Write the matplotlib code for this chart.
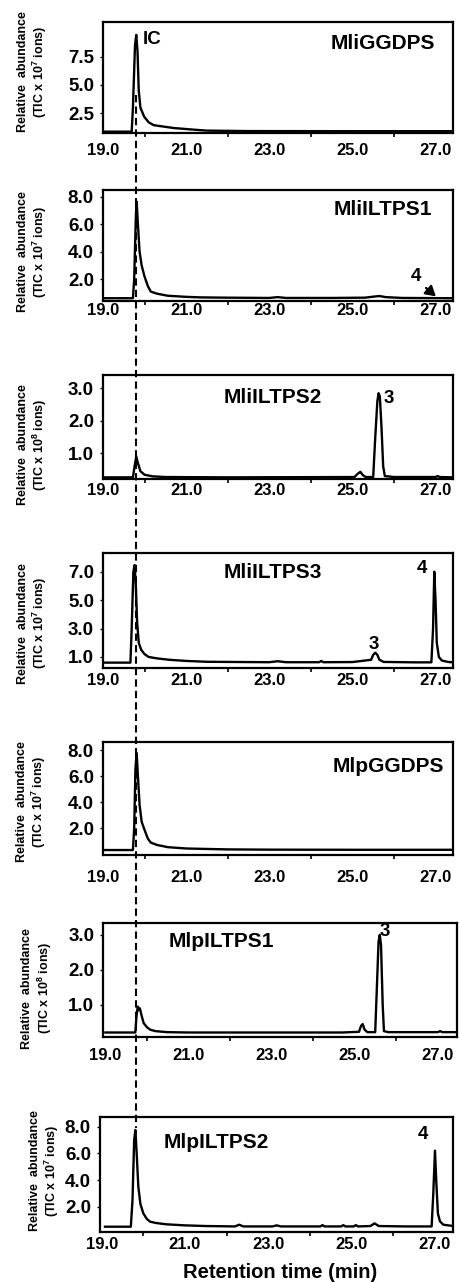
import matplotlib
matplotlib.use("Agg")
import matplotlib.pyplot as plt
from matplotlib.lines import Line2D
from matplotlib.ticker import FixedLocator

plt.rcParams["font.family"] = ["Liberation Sans", "DejaVu Sans"]
plt.rcParams["font.weight"] = "bold"
plt.rcParams["mathtext.default"] = "regular"

W, H = 459, 1282

# GC-MS traces (time in min, intensity in axis units)
t_mligg = [19.0, 19.69, 19.72, 19.77, 19.8, 19.83, 19.86, 19.9, 19.99, 20.1, 20.22, 20.7, 21.2, 21.5, 22.5, 25.0, 27.42]
y_mligg = [0.88, 0.88, 3.0, 8.5, 9.42, 8.0, 4.5, 3.0, 2.2, 1.7, 1.45, 1.2, 1.05, 0.97, 0.93, 0.92, 0.92]

t_mli1 = [19.0, 19.72, 19.75, 19.79, 19.81, 19.84, 19.88, 19.93, 20.0, 20.08, 20.15, 20.3, 20.56, 21.0, 21.36,
          22.0, 23.0, 23.2, 23.4, 24.5, 25.3, 25.55, 25.65, 25.8, 26.2, 27.42]
y_mli1 = [0.62, 0.62, 2.0, 6.5, 7.64, 6.0, 4.0, 3.0, 2.19, 1.5, 1.1, 0.95, 0.8, 0.72, 0.68,
          0.66, 0.64, 0.7, 0.64, 0.64, 0.66, 0.75, 0.78, 0.7, 0.64, 0.62]

t_mli2 = [19.0, 19.72, 19.76, 19.8, 19.84, 19.9, 20.0, 20.2, 20.5, 22.0, 25.05, 25.12, 25.19, 25.25, 25.32,
          25.5, 25.55, 25.6, 25.63, 25.66, 25.7, 25.74, 25.78, 26.0, 27.0, 27.05, 27.1, 27.42]
y_mli2 = [0.26, 0.26, 0.6, 0.9, 0.7, 0.45, 0.34, 0.29, 0.27, 0.26, 0.27, 0.36, 0.43, 0.33, 0.27,
          0.27, 1.5, 2.6, 2.85, 2.75, 1.8, 0.6, 0.3, 0.27, 0.27, 0.3, 0.27, 0.26]

t_mli3 = [19.0, 19.66, 19.69, 19.73, 19.76, 19.79, 19.82, 19.86, 19.92, 20.0, 20.1, 20.3, 20.6, 21.0, 21.5,
          23.0, 23.2, 23.4, 24.2, 24.25, 24.3, 25.0, 25.45, 25.5, 25.55, 25.6, 25.65, 25.75, 26.5,
          26.9, 26.94, 26.97, 27.0, 27.03, 27.08, 27.15, 27.3, 27.42]
y_mli3 = [0.6, 0.6, 3.0, 7.0, 7.49, 6.0, 3.5, 2.0, 1.5, 1.2, 1.0, 0.9, 0.8, 0.72, 0.66,
          0.63, 0.7, 0.63, 0.63, 0.72, 0.63, 0.64, 0.8, 1.15, 1.3, 1.15, 0.8, 0.65, 0.62,
          0.62, 3.0, 7.02, 5.0, 2.0, 1.0, 0.75, 0.65, 0.62]

t_mlpgg = [19.0, 19.72, 19.75, 19.78, 19.81, 19.84, 19.88, 19.93, 20.0, 20.08, 20.15, 20.3, 20.56, 21.0, 21.4,
           22.0, 23.0, 25.0, 27.42]
y_mlpgg = [0.33, 0.33, 2.0, 6.5, 7.77, 6.0, 3.8, 2.5, 1.87, 1.2, 0.9, 0.72, 0.55, 0.45, 0.42,
           0.38, 0.36, 0.35, 0.35]

t_mlp1 = [19.0, 19.72, 19.75, 19.78, 19.8, 19.83, 19.87, 19.92, 20.0, 20.08, 20.2, 20.48, 21.0, 24.7, 25.1,
          25.15, 25.19, 25.23, 25.3, 25.49, 25.53, 25.57, 25.6, 25.63, 25.67, 25.7, 25.8, 27.0, 27.05, 27.1, 27.45]
y_mlp1 = [0.21, 0.21, 0.7, 0.95, 0.85, 0.9, 0.7, 0.48, 0.36, 0.29, 0.25, 0.22, 0.21, 0.21, 0.23,
          0.4, 0.45, 0.3, 0.22, 0.22, 1.5, 2.8, 3.0, 2.7, 1.0, 0.25, 0.22, 0.22, 0.25, 0.22, 0.22]

t_mlp2 = [19.08, 19.7, 19.74, 19.78, 19.81, 19.84, 19.88, 19.93, 20.0, 20.08, 20.16, 20.3, 20.55, 21.0, 21.5,
          22.2, 22.3, 22.4, 23.1, 23.2, 23.3, 24.25, 24.3, 24.35, 24.75, 24.8, 24.85, 25.05, 25.1, 25.15,
          25.45, 25.55, 25.65, 26.3, 26.92, 26.96, 27.0, 27.03, 27.07, 27.12, 27.2, 27.44]
y_mlp2 = [0.5, 0.5, 2.5, 7.0, 7.75, 6.0, 3.5, 2.2, 1.5, 1.1, 0.88, 0.78, 0.68, 0.6, 0.55,
          0.52, 0.65, 0.52, 0.52, 0.6, 0.52, 0.52, 0.62, 0.52, 0.52, 0.62, 0.52, 0.52, 0.62, 0.52,
          0.55, 0.75, 0.55, 0.52, 0.52, 3.0, 6.2, 4.0, 1.5, 0.9, 0.65, 0.55]

names = ["MliGGDPS", "MliILTPS1", "MliILTPS2", "MliILTPS3", "MlpGGDPS", "MlpILTPS1", "MlpILTPS2"]
exponents = [7, 7, 8, 7, 7, 8, 7]
yticks = [[2.5, 5.0, 7.5], [2, 4, 6, 8], [1, 2, 3], [1, 3, 5, 7], [2, 4, 6, 8], [1, 2, 3], [2, 4, 6, 8]]
xticks = [19.0, 21.0, 23.0, 25.0, 27.0]
traces = [(t_mligg, y_mligg), (t_mli1, y_mli1), (t_mli2, y_mli2), (t_mli3, y_mli3),
          (t_mlpgg, y_mlpgg), (t_mlp1, y_mlp1), (t_mlp2, y_mlp2)]

# panel boxes in pixels: left, top, right, bottom
boxes = [(103, 22, 453, 133), (103, 190, 453, 300.7), (103, 375, 453, 479.3), (103, 553.3, 453, 668.3),
         (103, 741.7, 453, 855), (103.3, 923.3, 456.7, 1036.7), (100, 1116.7, 453.3, 1231.7)]
xlims = [(19.0, 27.42)] * 5 + [(18.95, 27.45), (18.96, 27.44)]
ylims = [(0.76, 10.56), (0.44, 8.49), (0.2, 3.41), (0.2, 8.32), (-0.05, 8.64), (0.09, 3.33), (0.125, 8.75)]
xpads = [7, 1.5, 3, 3.5, 11, 8, 3.5]
name_pos = [(0.80, 0.81), (0.80, 0.82), (0.486, 0.78), (0.486, 0.83), (0.815, 0.78), (0.335, 0.84), (0.33, 0.78)]
ylab_pos = [(33, 71.7), (33, 251.7), (33, 445), (33, 623.3), (32, 801.7), (37.5, 988.3), (45, 1171)]

fig = plt.figure(figsize=(W / 100, H / 100), dpi=100)
axes = []
for i in range(7):
    l, t, r, b = boxes[i]
    ax = fig.add_axes([l / W, 1 - b / H, (r - l) / W, (b - t) / H])
    ax.plot(traces[i][0], traces[i][1], color="black", lw=1.7, solid_joinstyle="round")
    ax.set_xlim(*xlims[i])
    ax.set_ylim(*ylims[i])
    for s in ax.spines.values():
        s.set_linewidth(1.6)
    ax.set_xticks(xticks)
    ax.set_xticklabels([f"{v:.1f}" for v in xticks])
    ax.xaxis.set_minor_locator(FixedLocator([20, 22, 24, 26]))
    ax.set_yticks(yticks[i])
    ax.set_yticklabels([f"{v:.1f}" for v in yticks[i]])
    ax.tick_params(axis="x", which="major", length=0, pad=xpads[i], labelsize=12)
    ax.tick_params(axis="x", which="minor", length=3, width=1.2, direction="out")
    ax.tick_params(axis="y", which="major", length=2.5, width=1, pad=4, labelsize=13.5)
    ax.text(*name_pos[i], names[i], transform=ax.transAxes, ha="center", va="center",
            fontsize=15, fontweight="bold")
    fig.text(ylab_pos[i][0] / W, 1 - ylab_pos[i][1] / H,
             "Relative  abundance\n(TIC x 10$^{%d}$ ions)" % exponents[i],
             rotation=90, ha="center", va="center", fontsize=9, fontweight="bold",
             linespacing=1.2)
    axes.append(ax)

axes[0].text(19.96, 9.0, "IC", ha="left", va="center", fontsize=13.5, fontweight="bold")
axes[1].text(26.52, 2.19, "4", ha="center", va="center", fontsize=13.5, fontweight="bold")
axes[1].annotate("", xy=(27.06, 0.62), xytext=(26.72, 1.5),
                 arrowprops=dict(arrowstyle="-|>,head_length=0.6,head_width=0.35", color="black", lw=1.6))
axes[2].text(25.87, 2.7, "3", ha="center", va="center", fontsize=13.5, fontweight="bold")
axes[3].text(25.51, 1.85, "3", ha="center", va="center", fontsize=13.5, fontweight="bold")
axes[3].text(26.67, 7.28, "4", ha="center", va="center", fontsize=13.5, fontweight="bold")
axes[5].text(25.73, 3.09, "3", ha="center", va="center", fontsize=13.5, fontweight="bold")
axes[6].text(26.72, 7.38, "4", ha="center", va="center", fontsize=13.5, fontweight="bold")

fig.text(280 / W, 1 - 1272 / H, "Retention time (min)", ha="center", va="center",
         fontsize=14.5, fontweight="bold")

# dashed guide line at the internal-standard retention time, drawn over the panels
fig.add_artist(Line2D([136 / W, 136 / W], [1 - 95 / H, 1 - 1128 / H], transform=fig.transFigure,
                      color="black", lw=1.5, linestyle=(0, (3.5, 2)), zorder=10))

fig.savefig("out.png", dpi=100)
